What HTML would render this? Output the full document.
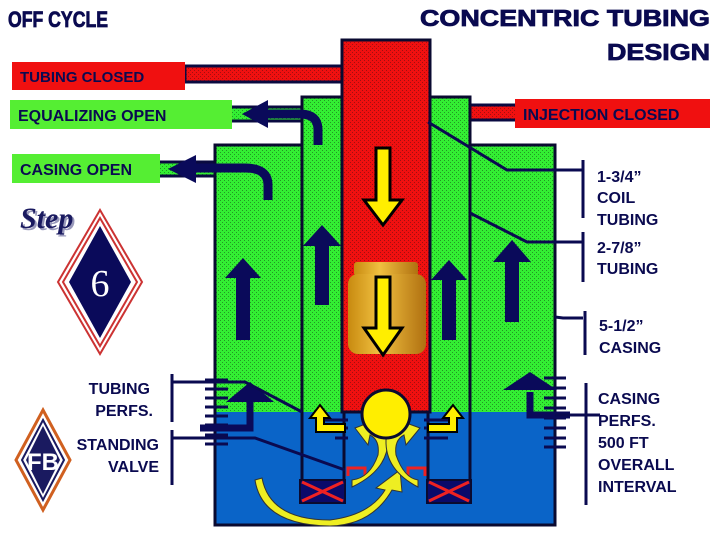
<!DOCTYPE html>
<html><head><meta charset="utf-8"><style>
html,body{margin:0;padding:0;background:#fff;}
svg{display:block;}
text{font-family:"Liberation Sans",Arial,sans-serif;font-weight:bold;fill:#0a0a50;}
.t{stroke:#0a0a50;stroke-width:0.8;}
</style></head><body>
<svg width="720" height="540" viewBox="0 0 720 540" xmlns="http://www.w3.org/2000/svg">
<defs>
<pattern id="gp" width="4" height="4" patternUnits="userSpaceOnUse"><rect width="4" height="4" fill="#33ee33"/><rect width="1" height="1" fill="#229922"/><rect x="2" y="2" width="1" height="1" fill="#229922"/></pattern>
<pattern id="rp" width="4" height="4" patternUnits="userSpaceOnUse"><rect width="4" height="4" fill="#f01010"/><rect width="1" height="1" fill="#a01010"/><rect x="2" y="2" width="1" height="1" fill="#a01010"/></pattern>
<linearGradient id="gold" x1="0" x2="1"><stop offset="0" stop-color="#c88a10"/><stop offset="0.4" stop-color="#f0c040"/><stop offset="1" stop-color="#b07010"/></linearGradient>
</defs>

<!-- titles -->
<text class="t" x="8" y="27" font-size="22" textLength="100" lengthAdjust="spacingAndGlyphs">OFF CYCLE</text>
<text class="t" x="420" y="26" font-size="23" textLength="290" lengthAdjust="spacingAndGlyphs">CONCENTRIC TUBING</text>
<text class="t" x="607" y="60" font-size="23" textLength="103" lengthAdjust="spacingAndGlyphs">DESIGN</text>

<!-- connector lines to labels -->
<rect x="185" y="66" width="157" height="16" fill="url(#rp)" stroke="#0a0a40" stroke-width="3"/>
<rect x="230" y="107" width="72" height="14" fill="url(#gp)" stroke="#0a0a40" stroke-width="3"/>
<rect x="470" y="105" width="48" height="15" fill="url(#rp)" stroke="#0a0a40" stroke-width="3"/>
<rect x="158" y="162" width="58" height="14" fill="url(#gp)" stroke="#0a0a40" stroke-width="3"/>

<!-- casing -->
<rect x="215" y="145" width="340" height="267" fill="url(#gp)"/>
<rect x="215" y="412" width="340" height="113" fill="#0a64c8"/>
<rect x="215" y="145" width="340" height="380" fill="none" stroke="#0a0a30" stroke-width="3"/>
<!-- tubing -->
<rect x="302" y="97" width="168" height="315" fill="url(#gp)"/>
<path d="M302 503 V97 H470 V503" fill="none" stroke="#0a0a30" stroke-width="3"/>
<line x1="344" y1="412" x2="344" y2="480" stroke="#0a0a30" stroke-width="3"/>
<line x1="428" y1="412" x2="428" y2="480" stroke="#0a0a30" stroke-width="3"/>
<!-- coil tubing -->
<rect x="342" y="40" width="88" height="372" fill="url(#rp)" stroke="#0a0a30" stroke-width="3"/>

<!-- label boxes -->
<rect x="12" y="62" width="173" height="28" fill="#f01010"/>
<text x="20" y="82" font-size="15">TUBING CLOSED</text>
<rect x="10" y="100" width="222" height="29" fill="#55ee33"/>
<text x="18" y="121" font-size="16">EQUALIZING OPEN</text>
<rect x="515" y="99" width="195" height="29" fill="#f01010"/>
<text x="523" y="120" font-size="16">INJECTION CLOSED</text>
<rect x="12" y="154" width="148" height="29" fill="#55ee33"/>
<text x="20" y="175" font-size="16">CASING OPEN</text>

<!-- curved outlet arrows -->
<path d="M318 145 V130 Q318 114 300 114 H265" fill="none" stroke="#0a0a5a" stroke-width="9"/>
<polygon points="242,114 268,100 268,128" fill="#0a0a5a"/>
<path d="M268 200 V185 Q268 168 245 168 H192" fill="none" stroke="#0a0a5a" stroke-width="9"/>
<polygon points="168,169 196,155 196,183" fill="#0a0a5a"/>

<!-- up arrows -->
<g fill="#0a0a5a">
<polygon points="236,340 250,340 250,278 261,278 243,258 225,278 236,278"/>
<polygon points="315,305 329,305 329,246 341,246 322,225 303,246 315,246"/>
<polygon points="442,340 456,340 456,280 467,280 449,260 431,280 442,280"/>
<polygon points="505,322 519,322 519,262 531,262 512,240 493,262 505,262"/>
</g>

<!-- valve body -->
<rect x="354" y="262" width="64" height="14" rx="3" fill="url(#gold)"/>
<rect x="348" y="274" width="78" height="80" rx="10" fill="url(#gold)"/>
<!-- yellow down arrows -->
<g fill="#ffee00" stroke="#000" stroke-width="3">
<polygon points="376,148 390,148 390,200 402,200 383,225 364,200 376,200"/>
<polygon points="376,277 390,277 390,328 402,328 383,355 364,328 376,328"/>
</g>

<!-- perfs -->
<g stroke="#0a0a50" stroke-width="3">
<line x1="205" y1="380" x2="228" y2="380"/><line x1="205" y1="389" x2="228" y2="389"/><line x1="205" y1="398" x2="228" y2="398"/><line x1="205" y1="407" x2="228" y2="407"/><line x1="205" y1="416" x2="228" y2="416"/><line x1="205" y1="425" x2="228" y2="425"/><line x1="205" y1="435" x2="228" y2="435"/><line x1="205" y1="444" x2="228" y2="444"/>
<line x1="544" y1="378" x2="566" y2="378"/><line x1="544" y1="388" x2="566" y2="388"/><line x1="544" y1="398" x2="566" y2="398"/><line x1="544" y1="408" x2="566" y2="408"/><line x1="544" y1="418" x2="566" y2="418"/><line x1="544" y1="428" x2="566" y2="428"/><line x1="544" y1="438" x2="566" y2="438"/><line x1="544" y1="447" x2="566" y2="447"/>
<line x1="325" y1="420" x2="348" y2="420"/><line x1="325" y1="428" x2="348" y2="428"/><line x1="335" y1="438" x2="348" y2="438"/>
<line x1="424" y1="420" x2="448" y2="420"/><line x1="424" y1="428" x2="448" y2="428"/><line x1="424" y1="438" x2="448" y2="438"/>
</g>
<!-- L arrows to casing perfs -->
<path d="M200 428 H250 V400" fill="none" stroke="#0a0a5a" stroke-width="7"/>
<polygon points="226,402 250,382 274,402" fill="#0a0a5a"/>
<path d="M570 415 H530 V392" fill="none" stroke="#0a0a5a" stroke-width="7"/>
<polygon points="503,390 530,372 557,390" fill="#0a0a5a"/>

<!-- yellow small arrows in tubing -->
<g fill="#ffee00" stroke="#000" stroke-width="2">
<path d="M345 432 H316 V418 H310 L320 405 L330 418 H324 V424 H345 Z"/>
<path d="M428 432 H457 V418 H463 L453 405 L443 418 H449 V424 H428 Z"/>
</g>
<!-- standing valve packers -->
<rect x="300" y="480" width="45" height="23" fill="#0a0a6a" stroke="#0a0a30" stroke-width="2"/>
<rect x="427" y="480" width="44" height="23" fill="#0a0a6a" stroke="#0a0a30" stroke-width="2"/>
<g stroke="#ee2222" stroke-width="3">
<line x1="302" y1="482" x2="343" y2="501"/><line x1="302" y1="501" x2="343" y2="482"/>
<line x1="429" y1="482" x2="469" y2="501"/><line x1="429" y1="501" x2="469" y2="482"/>
</g>
<path d="M348 476 V468 H365 V476" fill="none" stroke="#ee2222" stroke-width="3"/>
<path d="M408 476 V468 H425 V476" fill="none" stroke="#ee2222" stroke-width="3"/>
<!-- swirl yellow arrows -->
<g fill="#eeee22" stroke="#333" stroke-width="1">
<path d="M262 478 Q270 520 330 520 Q370 515 385 490 L376 488 L400 470 L402 492 L392 490 Q372 525 330 526 Q262 525 255 480 Z"/>
<path d="M352 487 Q388 470 388 440 Q385 425 372 430 L376 420 L355 428 L368 445 L370 435 Q380 440 378 455 Q370 478 352 480 Z"/>
<path d="M418 487 Q385 470 386 440 Q389 425 402 430 L398 420 L420 428 L406 445 L404 435 Q394 440 396 455 Q404 478 418 480 Z"/>
</g>
<circle cx="386" cy="414" r="24" fill="#ffee00" stroke="#0a0a30" stroke-width="3"/>

<!-- label connectors -->
<g fill="none" stroke="#0a0a50" stroke-width="3">
<polyline points="428,122 507,170 583,170"/>
<line x1="583" y1="160" x2="583" y2="218"/>
<polyline points="470,213 527,242 583,242"/>
<line x1="583" y1="232" x2="583" y2="282"/>
<polyline points="555,317 563,318 583,318"/>
<line x1="585" y1="311" x2="585" y2="355"/>
<line x1="586" y1="383" x2="586" y2="505"/>
<line x1="555" y1="415" x2="600" y2="415"/>
<polyline points="172,382 245,382 302,412"/>
<line x1="172" y1="374" x2="172" y2="422"/>
<polyline points="172,438 255,438 345,470"/>
<line x1="172" y1="430" x2="172" y2="485"/>
</g>
<text x="597" y="182" font-size="16">1-3/4”</text>
<text x="597" y="203" font-size="16">COIL</text>
<text x="597" y="225" font-size="16">TUBING</text>
<text x="597" y="253" font-size="16">2-7/8”</text>
<text x="597" y="274" font-size="16">TUBING</text>
<text x="599" y="331" font-size="16">5-1/2”</text>
<text x="599" y="353" font-size="16">CASING</text>
<text x="598" y="404" font-size="16">CASING</text>
<text x="598" y="426" font-size="16">PERFS.</text>
<text x="598" y="448" font-size="16">500 FT</text>
<text x="598" y="470" font-size="16">OVERALL</text>
<text x="598" y="492" font-size="16">INTERVAL</text>
<text x="150" y="394" font-size="16" text-anchor="end">TUBING</text>
<text x="153" y="416" font-size="16" text-anchor="end">PERFS.</text>
<text x="159" y="450" font-size="16" text-anchor="end">STANDING</text>
<text x="159" y="472" font-size="16" text-anchor="end">VALVE</text>

<!-- Step diamond -->
<text x="22" y="230" font-size="30" font-style="italic" style="font-family:'Liberation Serif',serif;fill:#9999bb">Step</text>
<text x="20" y="228" font-size="30" font-style="italic" style="font-family:'Liberation Serif',serif;fill:#1a1a60">Step</text>
<polygon points="100,210 142,282 100,354 58,282" fill="#fff" stroke="#cc3333" stroke-width="2"/>
<polygon points="100,218 137,282 100,346 63,282" fill="#fff" stroke="#cc3333" stroke-width="2"/>
<polygon points="100,226 131,282 100,338 69,282" fill="#0a0a5a"/>
<text x="100" y="296" font-size="38" text-anchor="middle" style="font-family:'Liberation Serif',serif;font-weight:normal;fill:#fff">6</text>

<!-- logo -->
<polygon points="43,410 70,460 43,510 16,460" fill="#fff" stroke="#d06020" stroke-width="3"/>
<polygon points="43,420 64,460 43,500 22,460" fill="#fff" stroke="#1a1a60" stroke-width="2"/>
<polygon points="43,426 60,460 43,494 26,460" fill="#1a1a60"/>
<text x="43" y="470" font-size="24" text-anchor="middle" style="font-family:'Liberation Sans Narrow','Liberation Sans',sans-serif;fill:#fff">FB</text>
</svg>
</body></html>
